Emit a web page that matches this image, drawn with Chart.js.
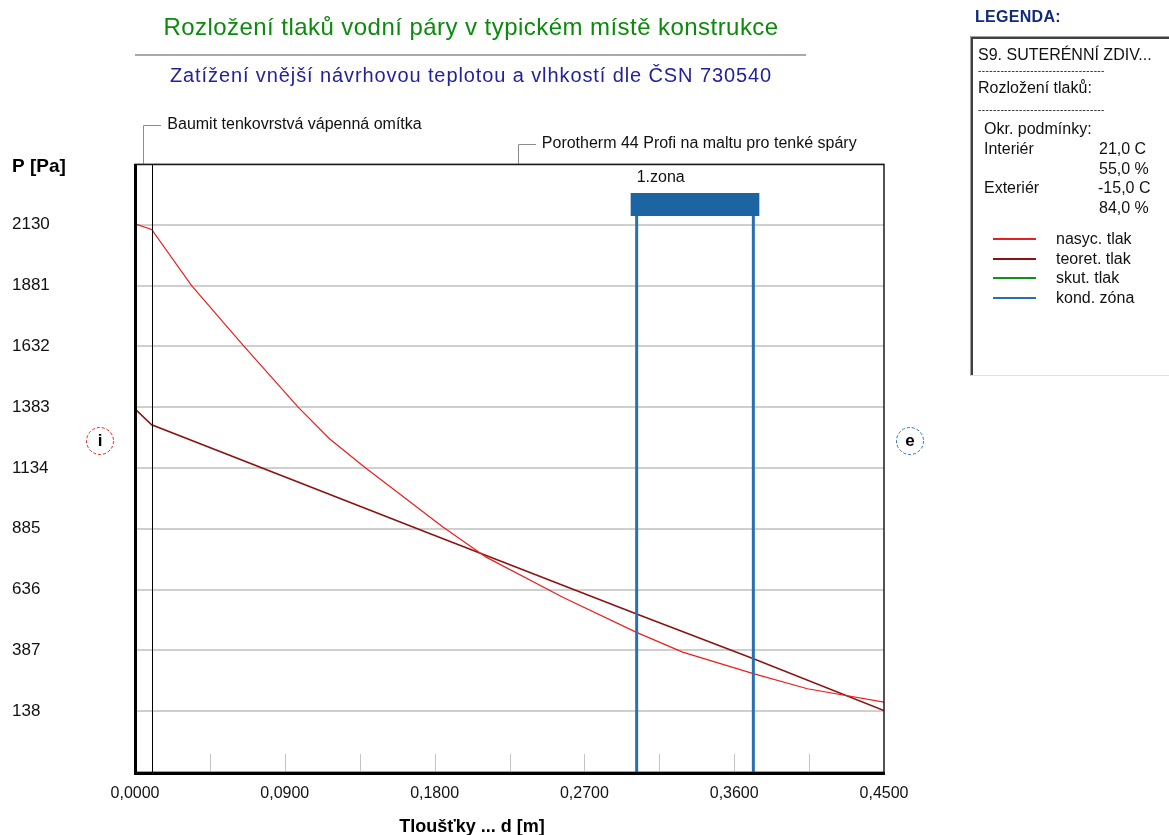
<!DOCTYPE html>
<html lang="cs">
<head>
<meta charset="utf-8">
<title>Rozložení tlaků vodní páry</title>
<script src="https://cdn.jsdelivr.net/npm/chart.js@4.4.1/dist/chart.umd.min.js"></script>
<style>
  html, body { margin: 0; padding: 0; background: #fff; width: 1169px; height: 835px; overflow: hidden;
    font-family: "Liberation Sans", Arial, sans-serif; }
  #wrap { position: relative; width: 1169px; height: 835px; }
  #chart { position: absolute; left: 0; top: 0; }
  .ttl { position: absolute; left: 135px; width: 672px; text-align: center; white-space: nowrap; line-height: 1; }
  #t1 { top: 15px; font-size: 24px; letter-spacing: 0.45px; color: #0b8a0b; }
  #rule { position: absolute; left: 135px; top: 54px; width: 671px; height: 0; border-top: 2px solid #a9a9a9; }
  #t2 { top: 65px; font-size: 20px; letter-spacing: 0.9px; color: #22229c; }
  #legHead { position: absolute; left: 975px; top: 8px; font-weight: bold; font-size: 16px; color: #112a7a; letter-spacing: 0.3px; }
  #legBox { position: absolute; left: 970px; top: 36px; width: 210px; height: 338px;
    border-left: 1px solid #a0a0a0; border-top: 1px solid #a0a0a0; border-bottom: 1px solid #e0e0e0; }
  #legInner { position: absolute; left: 0; top: 0; right: 0; bottom: 0; border-left: 2px solid #404040; border-top: 2px solid #404040; }
  .lt { position: absolute; font-size: 16px; color: #111; white-space: nowrap; line-height: 1; }
  .dash { position: absolute; font-size: 10px; color: #222; white-space: nowrap; line-height: 1; letter-spacing: 0.4px; }
  .sw { position: absolute; width: 43px; height: 2px; }
</style>
</head>
<body>
<div id="wrap">
  <canvas id="chart" width="1169" height="835"></canvas>
  <div id="t1" class="ttl">Rozložení tlaků vodní páry v typickém místě konstrukce</div>
  <div id="rule"></div>
  <div id="t2" class="ttl">Zatížení vnější návrhovou teplotou a vlhkostí dle ČSN 730540</div>
  <div id="legHead">LEGENDA:</div>
  <div id="legBox"><div id="legInner"></div></div>
</div>
<script>
// Layers of the construction (thickness in m)
const layerNames = ['Baumit tenkovrstvá vápenná omítka', 'Porotherm 44 Profi na maltu pro tenké spáry'];
const layerThickness = [0.01, 0.44];

// Saturated water vapour pressure along the thickness
const satX = [0, 0.01, 0.034, 0.065, 0.098, 0.117, 0.138, 0.185, 0.211, 0.257, 0.301, 0.329, 0.372, 0.404, 0.45];
const satP = [2134, 2111, 1881, 1636, 1383, 1253, 1137, 892, 769, 605, 462, 380, 291, 230, 175];

// Theoretical partial pressure of water vapour
const theorX = [0, 0.01, 0.177, 0.301, 0.372, 0.45];
const theorP = [1376, 1311, 866, 537, 352, 141];

// Condensation zone boundaries (m)
const zoneNames = ['1.zona'];
const zoneFrom = [0.3014];
const zoneTo = [0.3715];

// Axis ticks
const pressureTicks = [-111, 138, 387, 636, 885, 1134, 1383, 1632, 1881, 2130, 2379];
const thicknessMax = 0.45;
const thicknessStep = 0.045;

// Boundary conditions and legend
const condRows = [['Interiér', '21,0 C'], ['', '55,0 %'], ['Exteriér', '-15,0 C'], ['', '84,0 %']];
const legendNames = ['nasyc. tlak', 'teoret. tlak', 'skut. tlak', 'kond. zóna'];
const legendColors = ['#ee1d1d', '#8a1212', '#13901a', '#2a6fb0'];

const FONT = '"Liberation Sans", Arial, sans-serif';

// ---- legend panel ----
(function buildLegend() {
  const wrap = document.getElementById('wrap');
  const add = (cls, text, x, y) => {
    const d = document.createElement('div');
    d.className = cls; d.textContent = text;
    d.style.left = x + 'px'; d.style.top = y + 'px';
    wrap.appendChild(d); return d;
  };
  add('lt', 'S9. SUTERÉNNÍ ZDIV...', 978, 47);
  add('dash', '-'.repeat(34), 978, 66);
  add('lt', 'Rozložení tlaků:', 978, 80);
  add('dash', '-'.repeat(34), 978, 105);
  add('lt', 'Okr. podmínky:', 984, 121);
  condRows.forEach((r, i) => {
    const y = 141 + i * 19.7;
    if (r[0]) add('lt', r[0], 984, y);
    add('lt', r[1], r[1].startsWith('-') ? 1098 : 1099, y);
  });
  legendNames.forEach((n, i) => {
    const y = 239 + i * 19.7;
    const s = document.createElement('div');
    s.className = 'sw'; s.style.left = '993px'; s.style.top = (y - 1) + 'px';
    s.style.background = legendColors[i];
    wrap.appendChild(s);
    add('lt', n, 1056, y - 8);
  });
})();

const toPts = (xs, ys) => xs.map((x, i) => ({ x, y: ys[i] }));

// ---- decorations drawn through the scales ----
const decor = {
  id: 'decor',
  afterDatasetsDraw(chart) {
    const { ctx, chartArea: a, scales: { x, y } } = chart;
    ctx.save();

    // minor ticks rising from the thickness axis
    ctx.strokeStyle = '#c4c4c4'; ctx.lineWidth = 1;
    x.ticks.forEach(t => {
      if (t.value <= 0 || t.value >= thicknessMax - 1e-9) return;
      const px = Math.round(x.getPixelForValue(t.value)) + 0.5;
      ctx.beginPath(); ctx.moveTo(px, a.bottom); ctx.lineTo(px, a.bottom - 18); ctx.stroke();
    });

    // layer boundaries and layer captions
    let acc = 0;
    ctx.font = '16px ' + FONT; ctx.textBaseline = 'middle'; ctx.textAlign = 'left';
    layerThickness.forEach((d, i) => {
      const mid = x.getPixelForValue(acc + d / 2);
      const ly = a.top - 39 + i * 19;
      ctx.strokeStyle = '#8c8c8c'; ctx.lineWidth = 1;
      ctx.beginPath();
      ctx.moveTo(Math.round(mid) + 0.5, a.top); ctx.lineTo(Math.round(mid) + 0.5, ly + 0.5);
      ctx.lineTo(Math.round(mid) + 18, ly + 0.5); ctx.stroke();
      ctx.fillStyle = '#111';
      ctx.fillText(layerNames[i], mid + 24, ly);
      acc += d;
      if (acc < thicknessMax - 1e-9) {
        const bx = Math.round(x.getPixelForValue(acc)) + 0.5;
        ctx.strokeStyle = '#000'; ctx.lineWidth = 1;
        ctx.beginPath(); ctx.moveTo(bx, a.top); ctx.lineTo(bx, a.bottom); ctx.stroke();
      }
    });

    // condensation zones
    zoneFrom.forEach((z0, i) => {
      const p0 = x.getPixelForValue(z0), p1 = x.getPixelForValue(zoneTo[i]);
      const barTop = a.top + 29, barH = 23;
      ctx.fillStyle = '#1c64a2';
      ctx.fillRect(p0 - 6, barTop, (p1 - p0) + 12, barH);
      ctx.strokeStyle = legendColors[3]; ctx.lineWidth = 3;
      [p0, p1].forEach(p => {
        ctx.beginPath(); ctx.moveTo(p, barTop + barH); ctx.lineTo(p, a.bottom); ctx.stroke();
      });
      ctx.fillStyle = '#111'; ctx.font = '16px ' + FONT; ctx.textAlign = 'left';
      ctx.fillText(zoneNames[i], p0, a.top + 14);
    });

    // plot frame
    ctx.strokeStyle = '#1a1a1a'; ctx.lineWidth = 1.5;
    ctx.strokeRect(a.left, a.top + 0.5, a.right - a.left, a.bottom - a.top);
    ctx.strokeStyle = '#000'; ctx.lineWidth = 3;
    ctx.beginPath();
    ctx.moveTo(a.left + 0.5, a.top); ctx.lineTo(a.left + 0.5, a.bottom + 1.5);
    ctx.lineTo(a.right + 1, a.bottom + 1.5); ctx.stroke();

    // interior / exterior markers
    const markY = a.top + 277;
    [['i', a.left - 35, '#e02020'], ['e', a.right + 26, '#2a6fb0']].forEach(([t, cx, col]) => {
      ctx.strokeStyle = col; ctx.lineWidth = 1; ctx.setLineDash([3, 2]);
      ctx.beginPath(); ctx.arc(cx, markY, 13.5, 0, Math.PI * 2); ctx.stroke();
      ctx.setLineDash([]);
      ctx.fillStyle = '#000'; ctx.font = 'bold 17px ' + FONT; ctx.textAlign = 'center';
      ctx.fillText(t, cx, markY);
    });

    // axis titles
    ctx.fillStyle = '#000'; ctx.font = 'bold 19px ' + FONT;
    ctx.textAlign = 'left';
    ctx.fillText('P [Pa]', 12, a.top + 3);
    ctx.font = 'bold 18px ' + FONT;
    ctx.textAlign = 'center';
    ctx.fillText('Tloušťky ... d [m]', 472, a.bottom + 55);
    ctx.restore();
  }
};

new Chart(document.getElementById('chart'), {
  type: 'line',
  data: {
    datasets: [
      { label: legendNames[0], data: toPts(satX, satP), borderColor: legendColors[0], borderWidth: 1.2 },
      { label: legendNames[1], data: toPts(theorX, theorP), borderColor: legendColors[1], borderWidth: 1.5 }
    ]
  },
  options: {
    responsive: false,
    animation: false,
    devicePixelRatio: 1,
    layout: { padding: { left: 12, top: 164, right: 285, bottom: 0 } },
    elements: { point: { radius: 0 }, line: { tension: 0 } },
    plugins: { legend: { display: false }, tooltip: { enabled: false } },
    scales: {
      x: {
        type: 'linear', min: 0, max: thicknessMax,
        afterFit: s => { s.height = 63; },
        border: { display: false },
        grid: { display: false },
        ticks: {
          stepSize: thicknessStep, autoSkip: false, maxRotation: 0, padding: 4,
          color: '#111', font: { family: FONT, size: 16 },
          callback: (v, i) => (i % 2 === 0 ? Number(v).toFixed(4).replace('.', ',') : '')
        }
      },
      y: {
        type: 'linear', min: pressureTicks[0], max: pressureTicks[pressureTicks.length - 1],
        afterFit: s => { s.width = 123; },
        afterBuildTicks: s => { s.ticks = pressureTicks.map(v => ({ value: v })); },
        border: { display: false },
        grid: { color: '#cfcfcf', lineWidth: 2, drawTicks: false },
        ticks: {
          crossAlign: 'far', padding: 0, color: '#111', font: { family: FONT, size: 17 },
          callback: (v, i, arr) => (i === 0 || i === arr.length - 1 ? '' : String(v))
        }
      }
    }
  },
  plugins: [decor]
});
</script>
</body>
</html>
